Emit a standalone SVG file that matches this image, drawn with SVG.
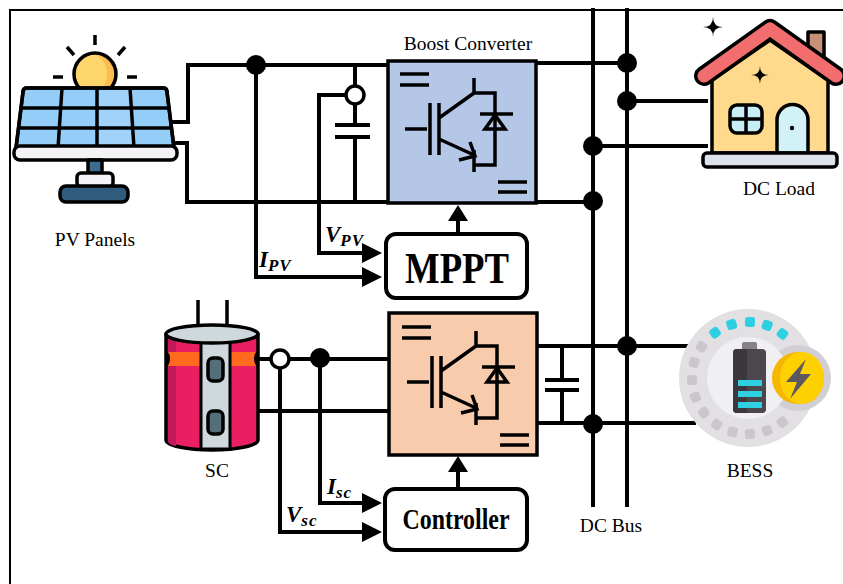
<svg xmlns="http://www.w3.org/2000/svg" xmlns:xlink="http://www.w3.org/1999/xlink" width="843" height="584" viewBox="0 0 843 584">
  <style>
    .wire { fill: none; stroke: #000; stroke-width: 4; stroke-linecap: square; stroke-linejoin: miter; }
    .thin { fill: none; stroke: #000; stroke-width: 3.5; stroke-linecap: butt; }
    .dot { fill: #000; }
    .ring { fill: #fff; stroke: #000; stroke-width: 3.5; }
    .lbl { font-family: "Liberation Serif", "Times New Roman", serif; font-size: 19.5px; fill: #000; text-anchor: middle; }
    .big { font-family: "Liberation Serif", "Times New Roman", serif; font-weight: bold; fill: #000; text-anchor: middle; }
    .sig { font-family: "Liberation Serif", "Times New Roman", serif; font-weight: bold; font-style: italic; font-size: 23px; fill: #000; }
    .ol { stroke: #000; stroke-width: 3.5; stroke-linejoin: round; }
  </style>
  <defs>
    <!-- IGBT with anti-parallel diode and DC/DC marks, drawn in box-local coordinates -->
    <g id="switch">
      <path class="thin" d="M12,13 H41 M12,24 H41 M110,121 H139 M110,131 H139"/>
      <path class="thin" d="M17,68 H39 M42,42 V94 M51,42 V94 M51,57 L86,32 V17 M86,32 H107 V104 H86 M51,78 L86,94 M86,89 V111"/>
      <path class="thin" d="M82,81 L87,95 L71,99"/>
      <path class="thin" d="M92,53 H125"/>
      <path d="M107,54 L97,68 H117 Z" fill="none" stroke="#000" stroke-width="3.5" stroke-linejoin="miter"/>
    </g>
    <rect id="seg" x="-5" y="-5" width="10" height="10" rx="3"/>
  </defs>

  <!-- outer frame -->
  <path d="M10,584 V10 H843" fill="none" stroke="#000" stroke-width="2"/>

  <!-- connectors -->
  <g id="connectors">
    <!-- DC bus -->
    <path class="wire" d="M593,10 V505 M627,10 V505"/>
    <!-- PV side -->
    <path class="wire" d="M173,122 H188 V65 H388"/>
    <path class="wire" d="M177,143 H187 V202 H388"/>
    <path class="wire" d="M355,65 V86 M355,104 V125 M355,137 V202"/>
    <path class="wire" d="M337,125 H368 M337,137 H368"/>
    <path class="wire" d="M346,95 H319 V253 H366"/>
    <path class="wire" d="M256,65 V277 H366"/>
    <polygon points="382,253 362,243 362,263" fill="#000"/>
    <polygon points="382,277 362,267 362,287" fill="#000"/>
    <path class="wire" d="M458,234 V220"/>
    <polygon points="458,205 448,221 468,221" fill="#000"/>
    <circle class="ring" cx="355" cy="95" r="9"/>
    <circle class="dot" cx="256" cy="65" r="10"/>
    <!-- boost converter to bus and load -->
    <path class="wire" d="M536,63 H627 M627,101 H706 M593,146 H706 M536,202 H593"/>
    <circle class="dot" cx="627" cy="63" r="10"/>
    <circle class="dot" cx="627" cy="101" r="10"/>
    <circle class="dot" cx="593" cy="146" r="10"/>
    <circle class="dot" cx="593" cy="201" r="10"/>
    <!-- SC side -->
    <path class="wire" d="M257,359 H389 M257,411 H389"/>
    <path class="wire" d="M280,368 V532 H366"/>
    <path class="wire" d="M320,358 V503 H366"/>
    <polygon points="382,503 362,493 362,513" fill="#000"/>
    <polygon points="382,532 362,522 362,542" fill="#000"/>
    <path class="wire" d="M458,489 V472"/>
    <polygon points="458,456 448,472 468,472" fill="#000"/>
    <circle class="ring" cx="280" cy="359" r="9"/>
    <circle class="dot" cx="320" cy="358" r="10"/>
    <!-- bidirectional converter to bus and BESS -->
    <path class="wire" d="M537,346 H688 M537,423 H694"/>
    <path class="wire" d="M562,346 V380 M562,390 V423 M547,380 H577 M547,390 H577"/>
    <circle class="dot" cx="627" cy="346" r="10"/>
    <circle class="dot" cx="593" cy="424" r="10"/>
  </g>

  <!-- PV panels -->
  <g id="pv">
    <path class="thin" d="M95,35 V45 M67,47 L74,55 M125,47 L118,55 M53,77 H63 M127,77 H137" stroke-linecap="round" stroke-width="4"/>
    <circle cx="95" cy="74" r="21" fill="#fbbd50"/>
    <ellipse cx="91" cy="74" rx="16" ry="20" fill="#fed56a"/>
    <circle cx="95" cy="74" r="21" fill="none" stroke="#000" stroke-width="3.5"/>
    <path class="ol" d="M27,88 H163 Q167,88 167,92 L174,148 H16 L23,92 Q23,88 27,88 Z" fill="#93cdf8"/>
    <path d="M99,90 H130 L134,146 H99 Z" fill="#a6d6fb" opacity="0.7"/>
    <path class="thin" d="M21,108 H169 M18,128 H172 M62,88 L58,148 M97,88 V148 M130,88 L134,148" stroke-width="4"/>
    <path class="ol" d="M27,88 H163 Q167,88 167,92 L174,148 H16 L23,92 Q23,88 27,88 Z" fill="none" stroke-width="4"/>
    <rect x="14" y="146" width="163" height="14" rx="6" fill="#f3f3f5" class="ol" stroke-width="4"/>
    <rect x="88" y="160" width="14" height="14" fill="#3e6c8e" class="ol"/>
    <rect x="77" y="173" width="36" height="14" rx="4" fill="#f4f4f6" class="ol"/>
    <rect x="60" y="186" width="68" height="16" rx="6" fill="#2f5b7c" class="ol"/>
    <text class="lbl" x="95" y="246">PV Panels</text>
  </g>

  <!-- boost converter -->
  <g id="boost">
    <text class="lbl" x="468" y="50">Boost Converter</text>
    <rect x="388" y="61" width="148" height="142" fill="#b4c7e7" stroke="#000" stroke-width="3.5"/>
    <use xlink:href="#switch" transform="translate(388,61)"/>
  </g>

  <!-- MPPT controller -->
  <g id="mppt">
    <rect x="386" y="234" width="141" height="64" rx="10" fill="#fff" stroke="#000" stroke-width="4"/>
    <text class="big" x="457" y="283" font-size="44" textLength="104" lengthAdjust="spacingAndGlyphs">MPPT</text>
    <text class="sig" x="325" y="242">V<tspan font-size="17" dy="4" letter-spacing="1">PV</tspan></text>
    <text class="sig" x="259" y="267">I<tspan font-size="17" dy="4" letter-spacing="1">PV</tspan></text>
  </g>

  <!-- DC load -->
  <g id="load">
    <path d="M713,17 Q713,27 723,27 Q713,27 713,37 Q713,27 703,27 Q713,27 713,17 Z" fill="#000"/>
    <rect x="808" y="32" width="16" height="32" fill="#c8917a" class="ol" stroke-width="3"/>
    <polygon points="712,80 770,40 828,80 828,153 712,153" fill="#ffd98c" class="ol"/>
    <path d="M704,76 L770,29 L836,76" fill="none" stroke="#000" stroke-width="20" stroke-linecap="round" stroke-linejoin="round"/>
    <path d="M704,76 L770,29 L836,76" fill="none" stroke="#f26d6d" stroke-width="13" stroke-linecap="round" stroke-linejoin="round"/>
    <path d="M760,66 Q760,75 769,75 Q760,75 760,84 Q760,75 751,75 Q760,75 760,66 Z" fill="#000"/>
    <rect x="730" y="105" width="32" height="28" rx="7" fill="#c8eef5" class="ol"/>
    <path class="thin" d="M746,105 V133 M730,119 H762"/>
    <path d="M777,153 V120 A15.5,15.5 0 0 1 808,120 V153 Z" fill="#d2f2f7" class="ol"/>
    <circle cx="792" cy="128" r="2.2" fill="#000"/>
    <rect x="703" y="153" width="134" height="14" rx="4" fill="#dde3ea" class="ol"/>
    <text class="lbl" x="779" y="195">DC Load</text>
  </g>

  <!-- supercapacitor -->
  <g id="sc">
    <path class="thin" d="M198,300 V334 M227,300 V334" stroke-width="4"/>
    <path d="M166,334 V440 A46,10 0 0 0 258,440 V334 Z" fill="#e91e63" class="ol"/>
    <path d="M168,336 V442 A10,8 0 0 0 176,446 V338 Z" fill="#c2185b"/>
    <path d="M168,352 Q172,358 168,366 H256 Q252,358 256,352 Z" fill="#ff6a1f"/>
    <path d="M166,352 Q171,358 166,366 M258,352 Q253,358 258,366" fill="none" stroke="#000" stroke-width="3"/>
    <rect x="201" y="336" width="29" height="113" fill="#cfd8dc" stroke="#000" stroke-width="3"/>
    <ellipse cx="212" cy="334" rx="46" ry="9" fill="#cfd8dc" class="ol"/>
    <rect x="208" y="358" width="15" height="23" rx="5" fill="#546e7a" class="ol" stroke-width="3"/>
    <rect x="208" y="411" width="15" height="23" rx="5" fill="#546e7a" class="ol" stroke-width="3"/>
    <text class="lbl" x="217" y="477">SC</text>
  </g>

  <!-- bidirectional converter -->
  <g id="bidir">
    <rect x="389" y="313" width="148" height="142" fill="#f8cbad" stroke="#000" stroke-width="3.5"/>
    <use xlink:href="#switch" transform="translate(390,314)"/>
  </g>

  <!-- controller -->
  <g id="controller">
    <rect x="385" y="489" width="142" height="61" rx="10" fill="#fff" stroke="#000" stroke-width="4"/>
    <text class="big" x="456" y="529" font-size="29" textLength="107" lengthAdjust="spacingAndGlyphs">Controller</text>
    <text class="sig" x="327" y="494">I<tspan font-size="17" dy="4" letter-spacing="1">sc</tspan></text>
    <text class="sig" x="286" y="522">V<tspan font-size="17" dy="4" letter-spacing="1">sc</tspan></text>
  </g>

  <!-- battery storage -->
  <g id="bess">
    <circle cx="748" cy="378" r="69" fill="#e2e0e3"/>
    <circle cx="798" cy="378" r="33" fill="#d2cfd4"/>
    <circle cx="748" cy="378" r="41" fill="#f0eff1"/>
    <g transform="translate(748,378)" fill="#2ecfe0">
      <use xlink:href="#seg" transform="rotate(-126) translate(56,0)"/>
      <use xlink:href="#seg" transform="rotate(-107) translate(56,0)"/>
      <use xlink:href="#seg" transform="rotate(-88) translate(56,0)"/>
      <use xlink:href="#seg" transform="rotate(-70) translate(56,0)"/>
      <use xlink:href="#seg" transform="rotate(-52) translate(56,0)"/>
    </g>
    <g transform="translate(748,378)" fill="#cbc6cd">
      <use xlink:href="#seg" transform="rotate(-146) translate(56,0)"/>
      <use xlink:href="#seg" transform="rotate(-164) translate(56,0)"/>
      <use xlink:href="#seg" transform="rotate(178) translate(56,0)"/>
      <use xlink:href="#seg" transform="rotate(160) translate(56,0)"/>
      <use xlink:href="#seg" transform="rotate(142) translate(56,0)"/>
      <use xlink:href="#seg" transform="rotate(124) translate(56,0)"/>
      <use xlink:href="#seg" transform="rotate(106) translate(56,0)"/>
      <use xlink:href="#seg" transform="rotate(88) translate(56,0)"/>
      <use xlink:href="#seg" transform="rotate(70) translate(56,0)"/>
      <use xlink:href="#seg" transform="rotate(52) translate(56,0)"/>
    </g>
    <rect x="742" y="342" width="15" height="9" rx="2" fill="#878189"/>
    <rect x="733" y="349" width="33" height="64" rx="4" fill="#4b474d"/>
    <path d="M737,349 H747 V413 H737 A4,4 0 0 1 733,409 V353 A4,4 0 0 1 737,349 Z" fill="#3b373d"/>
    <rect x="738" y="380" width="24" height="6" fill="#2fd0e2"/>
    <rect x="738" y="391" width="24" height="6" fill="#2fd0e2"/>
    <rect x="738" y="402" width="24" height="6" fill="#2fd0e2"/>
    <circle cx="798" cy="378" r="26" fill="#f4b800"/>
    <ellipse cx="802" cy="378" rx="22" ry="26" fill="#fed000"/>
    <polygon points="806,359 786,382 797,382 790,399 811,374 800,374" fill="#5d5860"/>
    <text class="lbl" x="750" y="477">BESS</text>
  </g>

  <text class="lbl" x="611" y="532">DC Bus</text>
</svg>
